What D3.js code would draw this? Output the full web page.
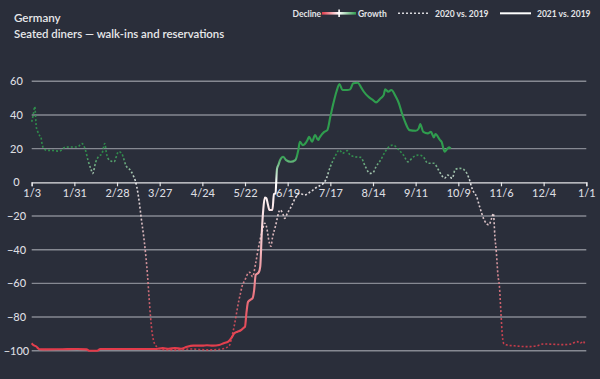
<!DOCTYPE html>
<html><head><meta charset="utf-8">
<script src="https://cdn.jsdelivr.net/npm/d3@7"></script>
<style>
html,body{margin:0;padding:0;background:#2a2e3a;}
svg{display:block;font-family:Lato,"Noto Sans",sans-serif;}
</style></head><body>
<svg id="chart" width="600" height="379"></svg>
<script>
// ---- data (dates on the 2020 calendar, values = % change) ----
const dates2020 = ["1/3","1/4","1/5","1/6","1/7","1/8","1/9","1/10","1/11","1/13","1/15","1/18","1/21","1/25","1/29","2/2","2/5","2/7","2/9","2/11","2/12","2/14","2/16","2/18","2/20","2/21","2/23","2/26","2/29","3/2","3/5","3/8","3/10","3/11","3/13","3/15","3/17","3/19","3/20","3/21","3/22","3/23","3/25","3/29","4/7","4/17","4/27","5/4","5/9","5/12","5/13","5/15","5/16","5/18","5/19","5/20","5/22","5/24","5/25","5/27","5/29","5/31","6/2","6/4","6/5","6/7","6/8","6/9","6/11","6/14","6/16","6/17","6/19","6/21","6/24","6/27","6/30","7/4","7/7","7/10","7/12","7/14","7/17","7/20","7/23","7/25","7/28","7/30","8/2","8/6","8/9","8/12","8/14","8/16","8/19","8/22","8/25","8/27","8/31","9/3","9/6","9/9","9/13","9/16","9/19","9/23","9/26","9/28","9/30","10/2","10/5","10/7","10/10","10/13","10/16","10/18","10/19","10/21","10/23","10/26","10/29","10/31","11/1","11/2","11/3","11/4","11/5","11/6","11/7","11/8","11/10","11/16","11/23","11/29","12/4","12/10","12/17","12/22","12/26","12/28","12/30","12/31"];
const values2020 = [36,40,45,33,30,28,27,22,20,19,19,18.8,18.5,20.8,21,21,23,20,13,7.5,5.3,12,15.5,16.8,23,17.5,13.2,12.2,18.2,17.2,9.7,6.9,3.3,1,-8,-22,-36,-55,-68,-80,-89,-94,-97.6,-99.3,-99.5,-99,-99.5,-99.3,-98.5,-96.5,-93,-85,-80,-70,-66,-62,-58,-54,-53.5,-56,-48,-38,-30,-24.3,-26,-36,-38,-33,-26,-16.4,-19,-21.4,-18,-15,-9.5,-6.5,-7.5,-5.6,-3.6,-2,-1,1.4,9.3,15.2,19.2,17.2,18.8,16.2,15.2,14.8,9.3,5.3,5.7,9.3,13.2,18.2,21.5,22.1,19.2,16.2,12.2,14.8,16.2,15.2,11.3,11.3,7.3,4.3,2.4,4.3,2.4,7.7,8.3,7.3,2.4,-3.6,-5.6,-8.5,-14.5,-22.4,-25.3,-21,-18.4,-32,-42,-55,-62,-78,-92,-96,-96.6,-97.2,-97.6,-97.2,-96,-96.2,-96.4,-96,-94.6,-95.6,-94.4,-96];

const dates2021 = ["1/3","1/4","1/6","1/8","1/13","1/23","2/2","2/8","2/10","2/15","2/17","2/27","3/8","3/18","3/25","3/29","4/2","4/6","4/10","4/14","4/18","4/24","4/27","5/1","5/5","5/8","5/11","5/13","5/15","5/17","5/19","5/21","5/22","5/23","5/24","5/26","5/27","5/28","5/29","5/31","6/1","6/2","6/3","6/4","6/5","6/6","6/7","6/9","6/10","6/11","6/12","6/13","6/14","6/16","6/18","6/21","6/24","6/26","6/27","6/29","7/2","7/3","7/5","7/7","7/9","7/10","7/13","7/15","7/17","7/19","7/21","7/23","7/25","7/28","7/30","8/1","8/4","8/6","8/8","8/11","8/14","8/16","8/19","8/21","8/22","8/24","8/26","8/29","8/31","9/2","9/4","9/7","9/11","9/13","9/14","9/16","9/19","9/21","9/23","9/24","9/27","9/28","9/30","10/2","10/3","10/4"];
const values2021 = [-95.6,-96.6,-97.5,-99.1,-99.2,-99.1,-99,-99.2,-100,-100,-99,-99,-99,-99,-99,-98.5,-98.8,-98.4,-98.8,-97.6,-97,-97,-96.8,-97,-96.6,-95.6,-94.6,-92.6,-89.6,-88.7,-88,-86.5,-85.7,-77,-71,-69.5,-68.8,-64,-55,-53.5,-50,-30,-16,-9,-9.5,-13,-16.4,-16.4,-7,-6.5,8,10.5,13.2,15.2,13.2,12.2,13.2,19.2,24.1,22.1,25.1,27.1,24.1,28.1,25.1,26.7,30,31,38.9,46.9,53.8,58.3,54.8,54.8,55.2,58.8,59.1,56.7,53.8,50.8,48.8,47.5,49.9,51.8,55.2,53.8,54.8,50.8,46.9,41,36,31,30.6,32,34.6,30,29.1,30,26.7,28.7,25.1,24.1,18.2,20.2,20.8,20];

const xTickLabels = ["1/3","1/31","2/28","3/27","4/24","5/22","6/19","7/17","8/14","9/11","10/9","11/6","12/4","1/1"];
const yTicks = [-100,-80,-60,-40,-20,0,20,40,60];

// ---- setup ----
const W = 600, H = 379;
const svg = d3.select("#chart");
svg.append("rect").attr("width", W).attr("height", H).attr("fill", "#2a2e3a");

const parseMD = s => d3.timeParse("%m/%d/%Y")(s + "/2020");
const start = parseMD("1/3");
const end = d3.timeYear.offset(parseMD("1/1"), 1);
const toDate = s => { const d = parseMD(s); return d < start ? d3.timeYear.offset(d, 1) : d; };

const x = d3.scaleTime().domain([start, end]).range([31.7, 586.3]);
const y = d3.scaleLinear().domain([-100, 60]).range([350.7, 81.3]);

// gridlines
svg.append("g").selectAll("line").data(yTicks.filter(v => v !== 0)).join("line")
  .attr("x1", x.range()[0]).attr("x2", x.range()[1])
  .attr("y1", d => y(d)).attr("y2", d => y(d))
  .attr("stroke", "#868992").attr("stroke-width", 1.4);

// y labels (centered)
svg.append("g").selectAll("text").data(yTicks).join("text")
  .attr("x", 16.5).attr("y", d => y(d)).attr("dy", "0.35em")
  .attr("text-anchor", "middle")
  .attr("fill", "#dcdde0").attr("font-size", 11).attr("font-weight", 500)
  .text(d => d3.format("d")(d));

// x axis at 0
const xAxis = d3.axisBottom(x)
  .tickValues(xTickLabels.map(toDate))
  .tickFormat(d3.timeFormat("%-m/%-d"))
  .tickSize(4).tickPadding(3);
const gx = svg.append("g").attr("transform", `translate(0,${y(0)})`).call(xAxis);
gx.select(".domain").attr("stroke", "#e4e4e6").attr("stroke-width", 1.4);
gx.selectAll(".tick line").attr("stroke", "#e4e4e6").attr("stroke-width", 1.2);
gx.selectAll(".tick text").attr("fill", "#dcdde0").attr("font-size", 11)
  .attr("font-weight", 500).attr("font-family", "Lato, 'Noto Sans', sans-serif");

// colour gradient by value
const defs = svg.append("defs");
const stops = [
  [60, "#2f9d4e"], [16, "#2f9d4e"], [0, "#ffffff"], [-30, "#f8d0d4"],
  [-60, "#ec8690"], [-85, "#e44c5a"], [-100, "#e33a49"]
];
const lg = defs.append("linearGradient").attr("id", "valGrad")
  .attr("gradientUnits", "userSpaceOnUse")
  .attr("x1", 0).attr("x2", 0).attr("y1", y(60)).attr("y2", y(-100));
lg.selectAll("stop").data(stops).join("stop")
  .attr("offset", d => (y(d[0]) - y(60)) / (y(-100) - y(60)))
  .attr("stop-color", d => d[1]);

const line = d3.line().x(d => x(d[0])).y(d => y(d[1])).curve(d3.curveMonotoneX);

const s2020 = dates2020.map((d, i) => [toDate(d), values2020[i]]);
const s2021 = dates2021.map((d, i) => [toDate(d), values2021[i]]);

svg.append("path").datum(s2020).attr("d", line)
  .attr("fill", "none").attr("stroke", "url(#valGrad)")
  .attr("stroke-width", 1.6).attr("stroke-dasharray", "2,2").attr("opacity", 0.85);

svg.append("path").datum(s2021).attr("d", line)
  .attr("fill", "none").attr("stroke", "url(#valGrad)")
  .attr("stroke-width", 2.1).attr("stroke-linejoin", "round");

// titles
svg.append("text").attr("x", 14).attr("y", 21.5).attr("fill", "#e8e9eb")
  .attr("font-size", 11.6).attr("font-weight", 600).text("Germany");
svg.append("text").attr("x", 14).attr("y", 38).attr("fill", "#e8e9eb")
  .attr("font-size", 11.4).attr("font-weight", 600).text("Seated diners — walk-ins and reservations");

// legend
const leg = svg.append("g").attr("font-size", 8.5).attr("font-weight", 700).attr("fill", "#e4e5e8");
leg.append("text").attr("x", 292.5).attr("y", 16.5).text("Decline");
const lgg = defs.append("linearGradient").attr("id", "legGrad");
lgg.append("stop").attr("offset", 0).attr("stop-color", "#e33a49");
lgg.append("stop").attr("offset", 0.5).attr("stop-color", "#ffffff");
lgg.append("stop").attr("offset", 1).attr("stop-color", "#2f9d4e");
leg.append("rect").attr("x", 322).attr("y", 12).attr("width", 34).attr("height", 2.6).attr("fill", "url(#legGrad)");
leg.append("rect").attr("x", 338.3).attr("y", 9.5).attr("width", 1.6).attr("height", 7.5).attr("fill", "#ffffff");
leg.append("text").attr("x", 358).attr("y", 16.5).text("Growth");
leg.append("line").attr("x1", 398).attr("x2", 430).attr("y1", 13.3).attr("y2", 13.3)
  .attr("stroke", "#d8d8dc").attr("stroke-width", 1.4).attr("stroke-dasharray", "2,2");
leg.append("text").attr("x", 435).attr("y", 16.5).text("2020 vs. 2019");
leg.append("line").attr("x1", 500).attr("x2", 531).attr("y1", 13.3).attr("y2", 13.3)
  .attr("stroke", "#ffffff").attr("stroke-width", 2);
leg.append("text").attr("x", 537).attr("y", 16.5).text("2021 vs. 2019");
</script>
</body></html>
